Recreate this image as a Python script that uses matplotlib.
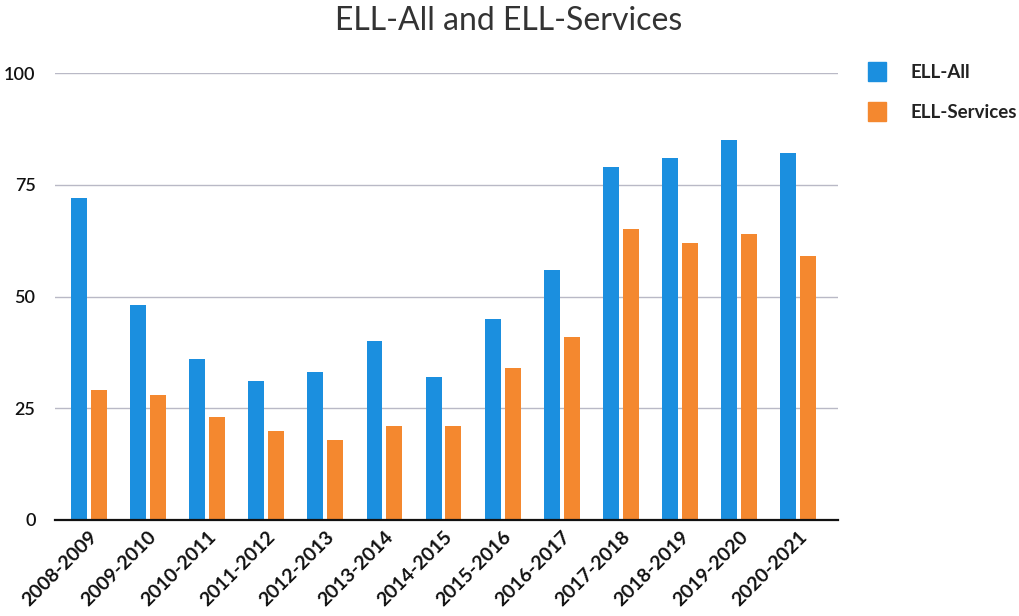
import matplotlib
matplotlib.use("Agg")
import matplotlib.pyplot as plt
import numpy as np
from matplotlib.patches import Rectangle

years = ["2008-2009", "2009-2010", "2010-2011", "2011-2012", "2012-2013",
         "2013-2014", "2014-2015", "2015-2016", "2016-2017", "2017-2018",
         "2018-2019", "2019-2020", "2020-2021"]
ell_all = [72, 48, 36, 31, 33, 40, 32, 45, 56, 79, 81, 85, 82]
ell_services = [29, 28, 23, 20, 18, 21, 21, 34, 41, 65, 62, 64, 59]
yticks = [0, 25, 50, 75, 100]

blue = "#1b8fdf"
orange = "#f4882f"
font = "Lato"

fig = plt.figure(figsize=(10.2, 6.16), dpi=100)
ax = fig.add_axes([55 / 1020, 1 - 520 / 616, (838 - 55) / 1020, (520 - 73) / 616])

x = np.arange(len(years))
w = 0.27
gap = 0.065
ax.bar(x - (w + gap) / 2, ell_all, width=w, color=blue, zorder=3)
ax.bar(x + (w + gap) / 2, ell_services, width=w, color=orange, zorder=3)

ax.set_xlim(-0.57, 12.67)
ax.set_ylim(0, 100)
ax.set_yticks(yticks)
ax.set_yticklabels([str(t) for t in yticks], fontsize=13, family=font,
                   fontweight="semibold", color="#111111")
ax.set_xticks(x)
ax.set_xticklabels(years, rotation=45, ha="right", rotation_mode="anchor",
                   fontsize=14, family=font, fontweight="bold", color="#111111")
ax.tick_params(axis="both", length=0)
ax.tick_params(axis="y", pad=14)
ax.tick_params(axis="x", pad=6)

for t in yticks[1:]:
    ax.axhline(t, color="#b9b9c6", lw=1.0, zorder=1)
for s in ["top", "right", "left"]:
    ax.spines[s].set_visible(False)
ax.spines["bottom"].set_color("#111111")
ax.spines["bottom"].set_linewidth(1.6)
ax.spines["bottom"].set_zorder(4)

fig.text(509 / 1020, 1 - 21 / 616, "ELL-All and ELL-Services", ha="center", va="center",
         fontsize=23, family=font, color="#333333")

# legend
for i, (lab, col) in enumerate([("ELL-All", blue), ("ELL-Services", orange)]):
    yc = 72 + i * 40
    fig.patches.append(Rectangle((868 / 1020, 1 - (yc + 9) / 616), 18 / 1020, 19 / 616,
                                 transform=fig.transFigure, color=col))
    fig.text(910 / 1020, 1 - yc / 616, lab, ha="left", va="center",
             fontsize=13.5, family=font, fontweight="bold", color="#222222")

fig.savefig("out.png", dpi=100)
